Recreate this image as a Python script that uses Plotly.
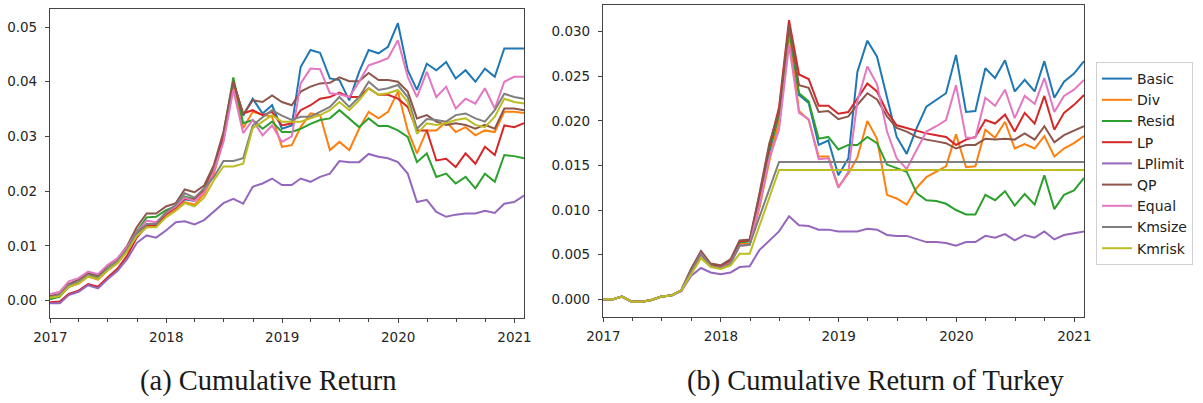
import pandas as pd
import plotly.graph_objects as go

# month-end dates, 2016-12-31 .. 2021-01-31
dates = pd.date_range("2017-01-01", periods=50, freq="MS") - pd.Timedelta(days=1)

names = ["Basic", "Div", "Resid", "LP", "LPlimit", "QP", "Equal", "Kmsize", "Kmrisk"]
colors = ["#1f77b4", "#ff7f0e", "#2ca02c", "#d62728", "#9467bd",
          "#8c564b", "#e377c2", "#7f7f7f", "#bcbd22"]

# ---------- (a) Cumulative Return ----------
a_basic = [0.0003, 0.0008, 0.0025, 0.0032, 0.0046, 0.0040, 0.0057, 0.0070, 0.0093, 0.0122,
           0.0138, 0.0139, 0.0158, 0.0170, 0.0185, 0.0182, 0.0200, 0.0240, 0.0300, 0.0398,
           0.0338, 0.0369, 0.0342, 0.0357, 0.0314, 0.0320, 0.0427, 0.0458, 0.0453, 0.0406,
           0.0403, 0.0366, 0.0418, 0.0458, 0.0452, 0.0464, 0.0507, 0.0421, 0.0385, 0.0433,
           0.0421, 0.0436, 0.0406, 0.0421, 0.0400, 0.0424, 0.0409, 0.0461, 0.0461, 0.0461]
a_div = [0.0004, 0.0008, 0.0025, 0.0031, 0.0044, 0.0038, 0.0055, 0.0068, 0.0090, 0.0118,
         0.0134, 0.0135, 0.0154, 0.0166, 0.0180, 0.0175, 0.0195, 0.0232, 0.0295, 0.0396,
         0.0315, 0.0345, 0.0340, 0.0336, 0.0281, 0.0284, 0.0317, 0.0342, 0.0339, 0.0275,
         0.0290, 0.0275, 0.0314, 0.0345, 0.0333, 0.0345, 0.0382, 0.0311, 0.0269, 0.0311,
         0.0311, 0.0327, 0.0308, 0.0317, 0.0302, 0.0311, 0.0308, 0.0345, 0.0345, 0.0343]
a_resid = [0.0002, 0.0007, 0.0026, 0.0033, 0.0047, 0.0042, 0.0058, 0.0071, 0.0095, 0.0126,
           0.0152, 0.0153, 0.0165, 0.0172, 0.0190, 0.0185, 0.0205, 0.0240, 0.0305, 0.0408,
           0.0324, 0.0330, 0.0314, 0.0327, 0.0308, 0.0308, 0.0314, 0.0323, 0.0330, 0.0333,
           0.0348, 0.0333, 0.0317, 0.0333, 0.0319, 0.0319, 0.0311, 0.0299, 0.0253, 0.0269,
           0.0226, 0.0232, 0.0214, 0.0226, 0.0205, 0.0232, 0.0217, 0.0266, 0.0264, 0.0260]
a_lp = [-0.0003, -0.0002, 0.0012, 0.0018, 0.0030, 0.0025, 0.0042, 0.0058, 0.0082, 0.0115,
        0.0136, 0.0138, 0.0158, 0.0170, 0.0186, 0.0184, 0.0202, 0.0238, 0.0300, 0.0400,
        0.0342, 0.0348, 0.0339, 0.0345, 0.0320, 0.0324, 0.0348, 0.0357, 0.0369, 0.0372,
        0.0380, 0.0372, 0.0372, 0.0388, 0.0376, 0.0376, 0.0369, 0.0354, 0.0311, 0.0311,
        0.0256, 0.0259, 0.0244, 0.0269, 0.0250, 0.0281, 0.0266, 0.0320, 0.0317, 0.0324]
a_lplimit = [-0.0005, -0.0005, 0.0010, 0.0016, 0.0028, 0.0022, 0.0039, 0.0054, 0.0076, 0.0105,
             0.0119, 0.0115, 0.0128, 0.0143, 0.0145, 0.0139, 0.0147, 0.0162, 0.0178, 0.0186,
             0.0177, 0.0208, 0.0214, 0.0223, 0.0211, 0.0211, 0.0223, 0.0217, 0.0226, 0.0232,
             0.0255, 0.0253, 0.0253, 0.0268, 0.0263, 0.0260, 0.0253, 0.0232, 0.0180, 0.0184,
             0.0162, 0.0153, 0.0157, 0.0159, 0.0159, 0.0164, 0.0160, 0.0177, 0.0180, 0.0192]
a_qp = [0.0008, 0.0012, 0.0030, 0.0038, 0.0050, 0.0046, 0.0063, 0.0076, 0.0100, 0.0134,
        0.0159, 0.0159, 0.0172, 0.0178, 0.0203, 0.0198, 0.0210, 0.0248, 0.0308, 0.0400,
        0.0340, 0.0366, 0.0363, 0.0375, 0.0363, 0.0357, 0.0382, 0.0391, 0.0397, 0.0398,
        0.0408, 0.0401, 0.0401, 0.0416, 0.0403, 0.0403, 0.0400, 0.0382, 0.0333, 0.0339,
        0.0327, 0.0321, 0.0324, 0.0321, 0.0314, 0.0321, 0.0314, 0.0351, 0.0351, 0.0348]
a_equal = [0.0012, 0.0016, 0.0035, 0.0041, 0.0053, 0.0048, 0.0065, 0.0077, 0.0098, 0.0125,
           0.0146, 0.0143, 0.0160, 0.0172, 0.0188, 0.0182, 0.0198, 0.0236, 0.0290, 0.0385,
           0.0306, 0.0330, 0.0302, 0.0320, 0.0290, 0.0300, 0.0397, 0.0424, 0.0423, 0.0379,
           0.0377, 0.0372, 0.0400, 0.0430, 0.0436, 0.0443, 0.0476, 0.0409, 0.0372, 0.0418,
           0.0372, 0.0391, 0.0351, 0.0369, 0.0360, 0.0388, 0.0351, 0.0400, 0.0409, 0.0409]
a_kmsize = [0.0006, 0.0010, 0.0028, 0.0034, 0.0047, 0.0041, 0.0058, 0.0071, 0.0094, 0.0124,
            0.0140, 0.0140, 0.0162, 0.0175, 0.0196, 0.0188, 0.0205, 0.0226, 0.0255, 0.0255,
            0.0260, 0.0320, 0.0335, 0.0348, 0.0338, 0.0330, 0.0336, 0.0336, 0.0345, 0.0354,
            0.0372, 0.0354, 0.0372, 0.0400, 0.0385, 0.0388, 0.0394, 0.0372, 0.0314, 0.0332,
            0.0330, 0.0327, 0.0339, 0.0342, 0.0333, 0.0327, 0.0348, 0.0378, 0.0372, 0.0369]
a_kmrisk = [0.0005, 0.0008, 0.0025, 0.0031, 0.0044, 0.0039, 0.0055, 0.0068, 0.0090, 0.0118,
            0.0134, 0.0134, 0.0152, 0.0164, 0.0178, 0.0172, 0.0188, 0.0220, 0.0245, 0.0245,
            0.0250, 0.0315, 0.0327, 0.0339, 0.0327, 0.0327, 0.0327, 0.0333, 0.0339, 0.0348,
            0.0363, 0.0348, 0.0366, 0.0388, 0.0376, 0.0379, 0.0385, 0.0363, 0.0305, 0.0324,
            0.0321, 0.0324, 0.0330, 0.0333, 0.0321, 0.0317, 0.0336, 0.0369, 0.0363, 0.0360]

# ---------- (b) Cumulative Return of Turkey ----------
b_basic = [0.0000, 0.0000, 0.0003, -0.0003, -0.0003, -0.0001, 0.0003, 0.0004, 0.0010, 0.0032,
           0.0052, 0.0038, 0.0036, 0.0043, 0.0064, 0.0065, 0.0110, 0.0165, 0.0205, 0.0297,
           0.0229, 0.0220, 0.0173, 0.0178, 0.0139, 0.0158, 0.0255, 0.0290, 0.0272, 0.0225,
           0.0182, 0.0163, 0.0192, 0.0216, 0.0224, 0.0231, 0.0274, 0.0210, 0.0211, 0.0259,
           0.0248, 0.0268, 0.0233, 0.0246, 0.0233, 0.0267, 0.0226, 0.0244, 0.0253, 0.0267]
b_div = [0.0000, 0.0000, 0.0003, -0.0003, -0.0003, -0.0001, 0.0003, 0.0004, 0.0010, 0.0031,
         0.0051, 0.0037, 0.0035, 0.0041, 0.0062, 0.0062, 0.0102, 0.0155, 0.0200, 0.0300,
         0.0211, 0.0201, 0.0160, 0.0160, 0.0126, 0.0141, 0.0159, 0.0200, 0.0180, 0.0117,
         0.0113, 0.0106, 0.0125, 0.0137, 0.0143, 0.0149, 0.0185, 0.0148, 0.0149, 0.0190,
         0.0181, 0.0199, 0.0169, 0.0174, 0.0169, 0.0183, 0.0160, 0.0169, 0.0175, 0.0183]
b_resid = [0.0000, 0.0000, 0.0003, -0.0003, -0.0003, -0.0001, 0.0003, 0.0004, 0.0010, 0.0032,
           0.0053, 0.0039, 0.0037, 0.0043, 0.0064, 0.0065, 0.0112, 0.0168, 0.0207, 0.0304,
           0.0231, 0.0222, 0.0180, 0.0182, 0.0168, 0.0173, 0.0173, 0.0182, 0.0175, 0.0151,
           0.0147, 0.0143, 0.0119, 0.0111, 0.0110, 0.0107, 0.0100, 0.0095, 0.0095, 0.0117,
           0.0111, 0.0121, 0.0105, 0.0118, 0.0106, 0.0139, 0.0101, 0.0117, 0.0122, 0.0136]
b_lp = [0.0000, 0.0000, 0.0003, -0.0003, -0.0003, -0.0001, 0.0003, 0.0004, 0.0010, 0.0033,
        0.0053, 0.0039, 0.0037, 0.0044, 0.0065, 0.0066, 0.0116, 0.0172, 0.0215, 0.0313,
        0.0252, 0.0247, 0.0217, 0.0217, 0.0208, 0.0210, 0.0225, 0.0242, 0.0233, 0.0210,
        0.0195, 0.0192, 0.0189, 0.0186, 0.0184, 0.0182, 0.0173, 0.0179, 0.0182, 0.0201,
        0.0197, 0.0207, 0.0188, 0.0209, 0.0197, 0.0228, 0.0190, 0.0209, 0.0218, 0.0229]
b_lplimit = [0.0000, 0.0000, 0.0003, -0.0003, -0.0003, -0.0001, 0.0003, 0.0004, 0.0009, 0.0026,
             0.0035, 0.0030, 0.0028, 0.0030, 0.0036, 0.0037, 0.0055, 0.0066, 0.0076, 0.0093,
             0.0083, 0.0082, 0.0078, 0.0078, 0.0076, 0.0076, 0.0076, 0.0079, 0.0078, 0.0072,
             0.0071, 0.0071, 0.0067, 0.0064, 0.0064, 0.0063, 0.0060, 0.0064, 0.0064, 0.0071,
             0.0069, 0.0073, 0.0066, 0.0072, 0.0069, 0.0076, 0.0067, 0.0072, 0.0074, 0.0076]
b_qp = [0.0000, 0.0000, 0.0003, -0.0003, -0.0003, -0.0001, 0.0003, 0.0004, 0.0010, 0.0034,
        0.0054, 0.0040, 0.0038, 0.0045, 0.0066, 0.0067, 0.0118, 0.0175, 0.0210, 0.0308,
        0.0240, 0.0237, 0.0210, 0.0211, 0.0202, 0.0205, 0.0218, 0.0231, 0.0224, 0.0205,
        0.0192, 0.0188, 0.0182, 0.0179, 0.0177, 0.0175, 0.0169, 0.0173, 0.0173, 0.0180,
        0.0179, 0.0180, 0.0179, 0.0186, 0.0179, 0.0194, 0.0176, 0.0184, 0.0189, 0.0194]
b_equal = [0.0000, 0.0000, 0.0003, -0.0003, -0.0003, -0.0001, 0.0003, 0.0004, 0.0010, 0.0031,
           0.0051, 0.0037, 0.0035, 0.0041, 0.0060, 0.0061, 0.0105, 0.0158, 0.0190, 0.0285,
           0.0209, 0.0202, 0.0157, 0.0158, 0.0125, 0.0143, 0.0222, 0.0261, 0.0241, 0.0188,
           0.0158, 0.0146, 0.0168, 0.0188, 0.0194, 0.0201, 0.0240, 0.0181, 0.0181, 0.0226,
           0.0217, 0.0235, 0.0203, 0.0228, 0.0219, 0.0248, 0.0210, 0.0228, 0.0235, 0.0246]
b_kmsize = [0.0000, 0.0000, 0.0003, -0.0003, -0.0003, -0.0001, 0.0003, 0.0004, 0.0010, 0.0031,
            0.0050, 0.0037, 0.0035, 0.0040, 0.0060, 0.0061, 0.0092, 0.0123, 0.0154, 0.0154,
            0.0154, 0.0154, 0.0154, 0.0154, 0.0154, 0.0154, 0.0154, 0.0154, 0.0154, 0.0154,
            0.0154, 0.0154, 0.0154, 0.0154, 0.0154, 0.0154, 0.0154, 0.0154, 0.0154, 0.0154,
            0.0154, 0.0154, 0.0154, 0.0154, 0.0154, 0.0154, 0.0154, 0.0154, 0.0154, 0.0154]
b_kmrisk = [0.0000, 0.0000, 0.0003, -0.0003, -0.0003, -0.0001, 0.0003, 0.0004, 0.0010, 0.0028,
            0.0046, 0.0036, 0.0034, 0.0038, 0.0051, 0.0051, 0.0082, 0.0113, 0.0145, 0.0145,
            0.0145, 0.0145, 0.0145, 0.0145, 0.0145, 0.0145, 0.0145, 0.0145, 0.0145, 0.0145,
            0.0145, 0.0145, 0.0145, 0.0145, 0.0145, 0.0145, 0.0145, 0.0145, 0.0145, 0.0145,
            0.0145, 0.0145, 0.0145, 0.0145, 0.0145, 0.0145, 0.0145, 0.0145, 0.0145, 0.0145]

panel_a = [a_basic, a_div, a_resid, a_lp, a_lplimit, a_qp, a_equal, a_kmsize, a_kmrisk]
panel_b = [b_basic, b_div, b_resid, b_lp, b_lplimit, b_qp, b_equal, b_kmsize, b_kmrisk]

year_ticks = ["2017", "2018", "2019", "2020", "2021"]
a_yticks = [0.00, 0.01, 0.02, 0.03, 0.04, 0.05]
b_yticks = [0.000, 0.005, 0.010, 0.015, 0.020, 0.025, 0.030]

W, H = 1203, 403
fig = go.Figure()

for name, col, ya in zip(names, colors, panel_a):
    fig.add_trace(go.Scatter(x=dates, y=ya, mode="lines", name=name,
                             line=dict(color=col, width=2), showlegend=False,
                             xaxis="x", yaxis="y"))
for name, col, yb in zip(names, colors, panel_b):
    fig.add_trace(go.Scatter(x=dates, y=yb, mode="lines", name=name,
                             legendgroup=name,
                             line=dict(color=col, width=2), showlegend=True,
                             xaxis="x2", yaxis="y2"))

tickfont = dict(family="DejaVu Sans", size=13.5, color="#262626")
spine = dict(showline=True, mirror=True, linecolor="#444", linewidth=1.2,
             ticks="outside", ticklen=4, tickwidth=1, tickcolor="#444",
             showgrid=False, zeroline=False, tickfont=tickfont, automargin=False)

def xax(domain, anchor):
    return dict(domain=domain, anchor=anchor, type="date",
                range=[dates[0], dates[-1]],
                tickmode="array",
                tickvals=[pd.Timestamp(t + "-01-01") for t in year_ticks],
                ticktext=year_ticks,
                minor=dict(dtick="M3", tick0="2017-01-01", ticks="outside",
                           ticklen=2.5, tickcolor="#444", showgrid=False),
                ticklabelstandoff=3,
                **spine)

def yax(domain, anchor, vals, fmt, rng):
    return dict(domain=domain, anchor=anchor, range=rng,
                tickmode="array", tickvals=vals,
                ticktext=[fmt.format(v) for v in vals],
                ticklabelstandoff=5, **spine)

fig.update_layout(
    width=W, height=H,
    margin=dict(l=0, r=0, t=0, b=0, autoexpand=False),
    paper_bgcolor="white", plot_bgcolor="white",
    xaxis=xax([50 / W, 524 / W], "y"),
    yaxis=yax([(H - 318) / H, (H - 9) / H], "x", a_yticks, "{:.2f}", [-0.0032, 0.0533]),
    xaxis2=xax([603 / W, 1084 / W], "y2"),
    yaxis2=yax([(H - 317) / H, (H - 5) / H], "x2", b_yticks, "{:.3f}", [-0.0020, 0.0330]),
    legend=dict(x=1096 / W, y=(H - 62) / H, xanchor="left", yanchor="top",
                bgcolor="white", bordercolor="#d0d0d0", borderwidth=1,
                font=dict(family="DejaVu Sans", size=14, color="#222"),
                tracegroupgap=0, itemwidth=30),
    showlegend=True,
)

cap_font = dict(family="Liberation Serif", size=28.5, color="#1a1a1a")
fig.add_annotation(text="(a) Cumulative Return", x=268 / W, y=(H - 381) / H,
                   xref="paper", yref="paper", showarrow=False, font=cap_font,
                   xanchor="center", yanchor="middle")
fig.add_annotation(text="(b) Cumulative Return of Turkey", x=876 / W, y=(H - 381) / H,
                   xref="paper", yref="paper", showarrow=False, font=cap_font,
                   xanchor="center", yanchor="middle")

fig.write_html("out.html", config={"displayModeBar": False},
               post_script="document.body.style.margin='0';document.body.style.padding='0';")
